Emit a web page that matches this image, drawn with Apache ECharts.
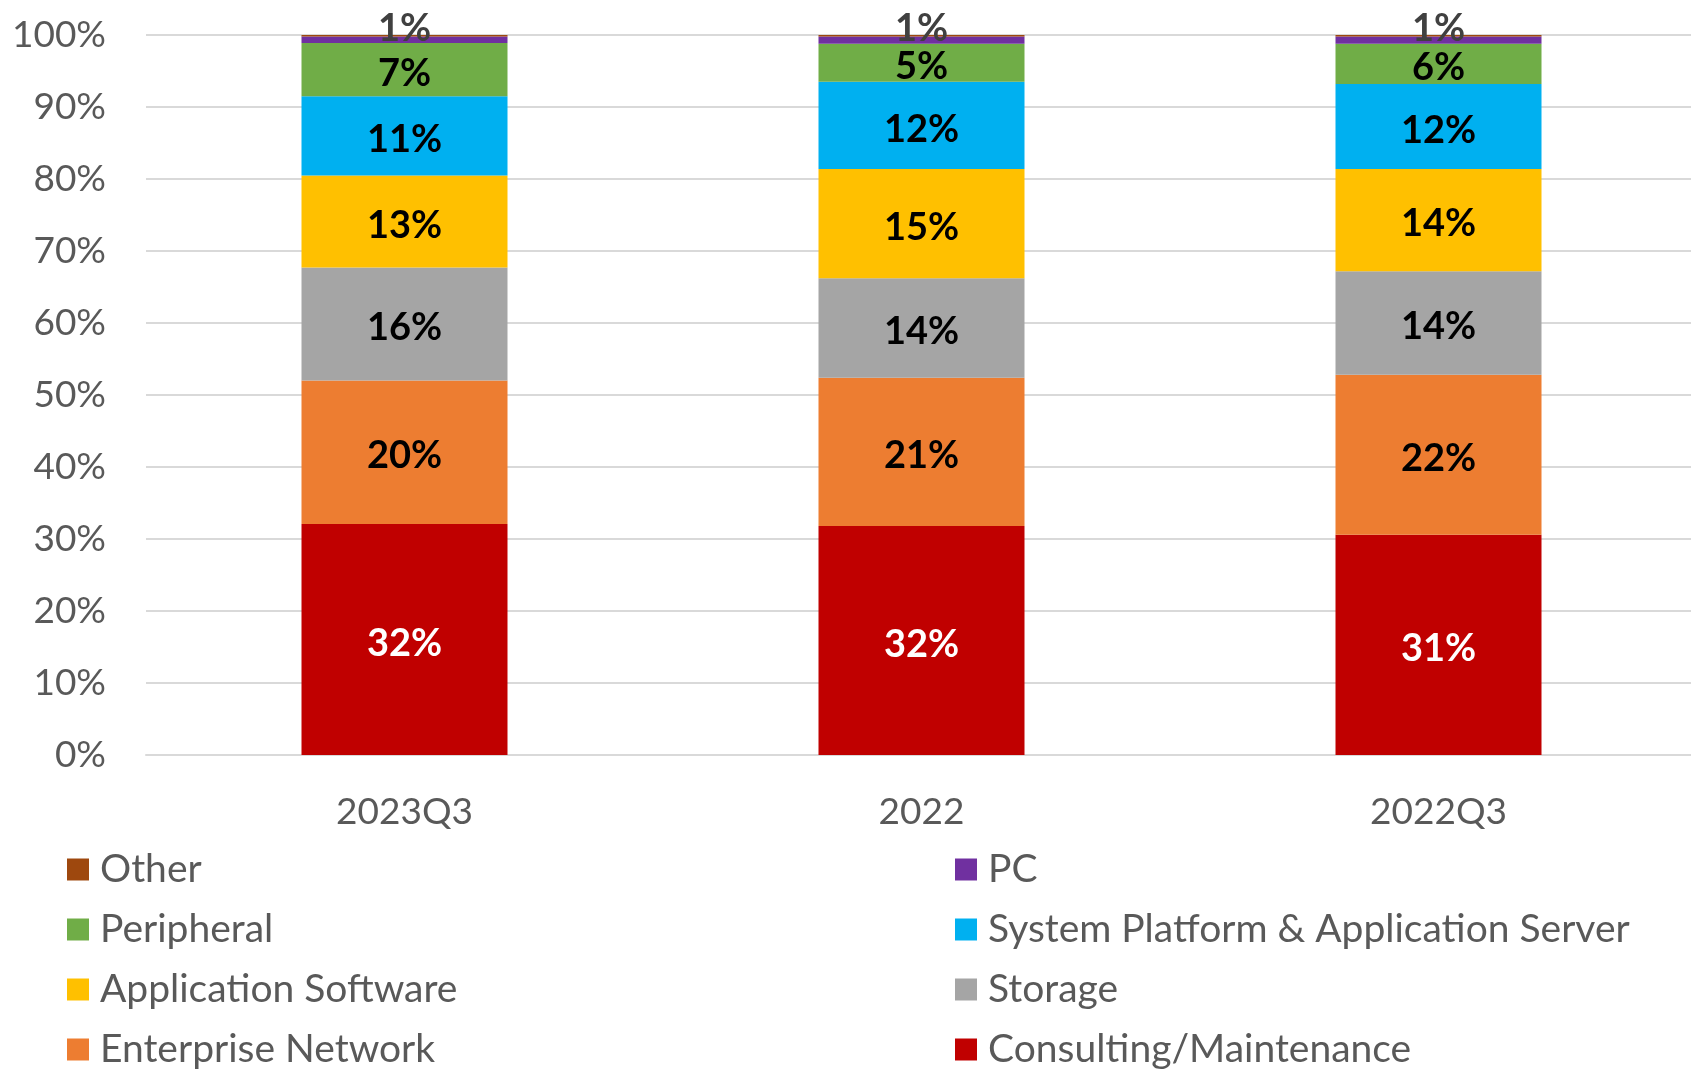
<!DOCTYPE html>
<html>
<head>
<meta charset="utf-8">
<title>Share by segment</title>
<script src="https://cdn.jsdelivr.net/npm/echarts@6/dist/echarts.min.js"></script>
<style>
  html, body { margin: 0; padding: 0; background: #fff; overflow: hidden; }
  #SegmentShare { width: 1697px; height: 1110px; }
</style>
</head>
<body>
<div id="SegmentShare"></div>
<script>
// categories on the x axis
var periods = ['2023Q3', '2022', '2022Q3'];

// series values (percent of total), bottom of the stack first
var consulting = [32.1, 31.8, 30.6];
var enterprise = [19.9, 20.6, 22.2];
var storage = [15.7, 13.8, 14.4];
var appSoftware = [12.8, 15.2, 14.2];
var sysPlatform = [11.0, 12.1, 11.8];
var peripheral = [7.4, 5.3, 5.6];
var pc = [0.9, 1.0, 1.0];
var other = [0.2, 0.2, 0.2];

// y axis ticks
var yMin = 0;
var yMax = 100;
var yStep = 10;

var textGray = '#595959';
var font = 'Lato';

function makeSerie(name, data, color, labelColor, labelPos) {
    var serie = {
        name: name,
        type: 'bar',
        stack: 'total',
        barWidth: 206,
        data: data,
        itemStyle: { color: color },
        label: { show: false }
    };
    if (labelColor) {
        serie.label = {
            show: true,
            position: labelPos || 'inside',
            offset: [0, 4],
            color: labelColor,
            fontFamily: font,
            fontWeight: 'bold',
            fontSize: 38,
            formatter: function (p) {
                return Math.round(p.value) + '%';
            }
        };
        if (labelPos == 'top') {
            serie.label.distance = -11;
            serie.label.offset = [0, 0];
        }
    }
    return serie;
}

function init() {
    var series = [];
    series.push(makeSerie('Consulting/Maintenance', consulting, '#C00000', '#ffffff'));
    series.push(makeSerie('Enterprise Network', enterprise, '#ED7D31', '#000000'));
    series.push(makeSerie('Storage', storage, '#A5A5A5', '#000000'));
    series.push(makeSerie('Application Software', appSoftware, '#FFC000', '#000000'));
    series.push(makeSerie('System Platform & Application Server', sysPlatform, '#00B0F0', '#000000'));
    series.push(makeSerie('Peripheral', peripheral, '#70AD47', '#000000'));
    series.push(makeSerie('PC', pc, '#7030A0', '#404040', 'top'));
    series.push(makeSerie('Other', other, '#9E480E', null));

    var legendBase = {
        orient: 'vertical',
        top: 850,
        padding: 0,
        icon: 'rect',
        itemWidth: 22,
        itemHeight: 22,
        itemGap: 21,
        textStyle: {
            color: textGray,
            fontFamily: font,
            fontSize: 39,
            lineHeight: 36,
            padding: [0, 0, 0, 6]
        }
    };
    var legendLeft = Object.assign({}, legendBase, {
        left: 67,
        data: ['Other', 'Peripheral', 'Application Software', 'Enterprise Network']
    });
    var legendRight = Object.assign({}, legendBase, {
        left: 955,
        data: ['PC', 'System Platform & Application Server', 'Storage', 'Consulting/Maintenance']
    });

    var myChart = echarts.init(document.getElementById('SegmentShare'), null, { renderer: 'canvas' });
    var option = {
        animation: false,
        backgroundColor: '#ffffff',
        legend: [legendLeft, legendRight],
        grid: {
            left: 146,
            top: 35,
            right: 0,
            height: 720,
            containLabel: false
        },
        xAxis: {
            type: 'category',
            data: periods,
            axisTick: { show: false },
            axisLine: { lineStyle: { color: '#d9d9d9', width: 2 } },
            axisLabel: {
                color: textGray,
                fontFamily: font,
                fontSize: 37,
                margin: 39
            }
        },
        yAxis: {
            type: 'value',
            min: yMin,
            max: yMax,
            interval: yStep,
            axisLine: { show: false },
            axisTick: { show: false },
            axisLabel: {
                color: textGray,
                fontFamily: font,
                fontSize: 37,
                margin: 40,
                formatter: '{value}%'
            },
            splitLine: { lineStyle: { color: '#d9d9d9', width: 2 } }
        },
        series: series
    };
    myChart.setOption(option);
}

init();
</script>
</body>
</html>
